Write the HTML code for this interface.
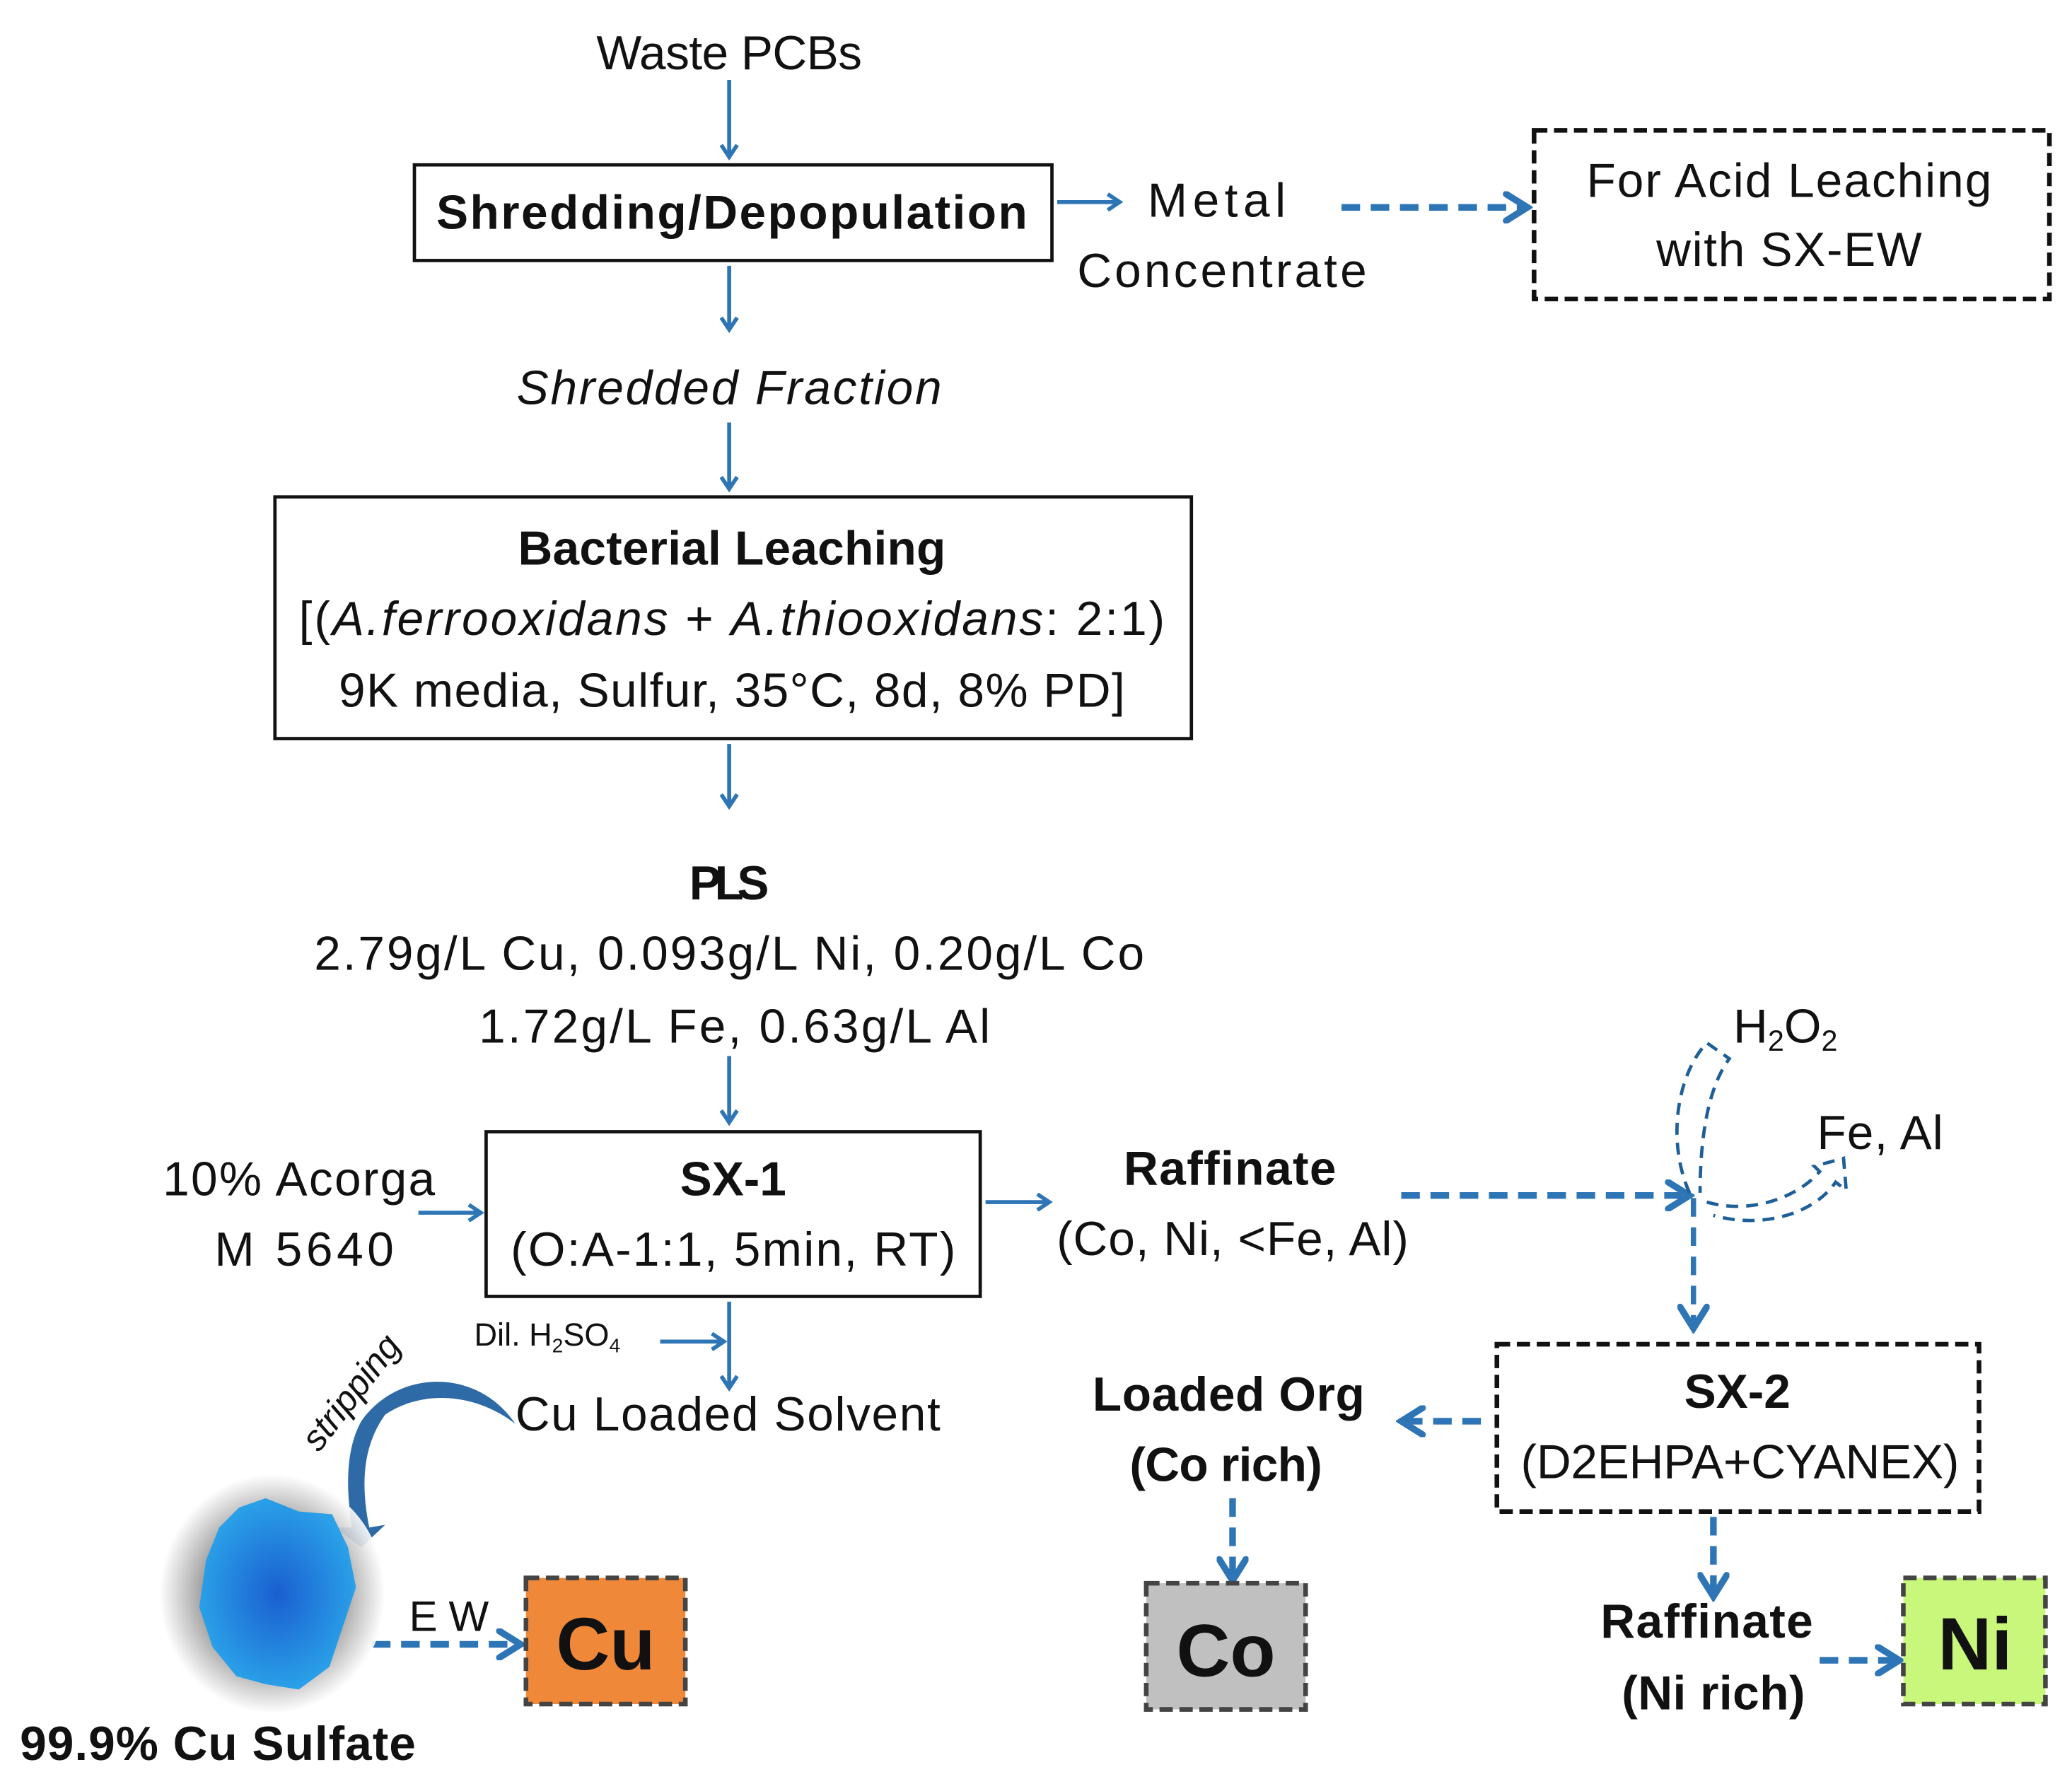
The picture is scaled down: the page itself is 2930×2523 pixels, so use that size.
<!DOCTYPE html>
<html><head><meta charset="utf-8"><style>html,body{margin:0;padding:0;background:#fff}svg{display:block}</style></head>
<body>
<svg width="2930" height="2523" viewBox="0 0 1560 1343" xmlns="http://www.w3.org/2000/svg" font-family="'Liberation Sans', sans-serif" fill="#111">
<defs>
<marker id="a" markerWidth="14" markerHeight="14" refX="11" refY="7" orient="auto" markerUnits="userSpaceOnUse"><path d="M2,1 L11,7 L2,13" fill="none" stroke="#2e75b6" stroke-width="3"/></marker>
<marker id="b" markerWidth="24" markerHeight="24" refX="20" refY="12" orient="auto" markerUnits="userSpaceOnUse"><path d="M4,2 L20,12 L4,22" fill="none" stroke="#2e75b6" stroke-width="5" stroke-linecap="round"/></marker>
<radialGradient id="sh"><stop offset="0.5" stop-color="#777"/><stop offset="1" stop-color="#fff"/></radialGradient>
<radialGradient id="cr"><stop offset="0" stop-color="#1a5fd0"/><stop offset="1" stop-color="#2aa0e8"/></radialGradient>
</defs>
<g stroke="#2e75b6" stroke-width="3" fill="none" marker-end="url(#a)">
<line x1="549" y1="60" x2="549" y2="118"/>
<line x1="796" y1="152" x2="843" y2="152"/>
<line x1="549" y1="200" x2="549" y2="248"/>
<line x1="549" y1="318" x2="549" y2="368"/>
<line x1="549" y1="560" x2="549" y2="607"/>
<line x1="549" y1="795" x2="549" y2="845"/>
<line x1="315" y1="913" x2="362" y2="913"/>
<line x1="742" y1="905" x2="790" y2="905"/>
<line x1="549" y1="980" x2="549" y2="1045"/>
<line x1="497" y1="1010" x2="545" y2="1010"/>
</g>
<g stroke="#2e75b6" stroke-width="5" fill="none" stroke-dasharray="14,8" marker-end="url(#b)">
<line x1="1010" y1="156" x2="1150" y2="156"/>
<line x1="1055" y1="900" x2="1272" y2="900"/>
<line x1="1275" y1="902" x2="1275" y2="1000" stroke-width="4"/>
<line x1="1115" y1="1070" x2="1055" y2="1070"/>
<line x1="928" y1="1128" x2="928" y2="1190"/>
<line x1="1290" y1="1142" x2="1290" y2="1202"/>
<line x1="1370" y1="1250" x2="1430" y2="1250"/>
<line x1="280" y1="1238" x2="392" y2="1238"/>
</g>
<g stroke="#1f5f99" stroke-width="2.5" fill="none" stroke-dasharray="9,6">
<path d="M1272,898 C1255,860 1262,810 1285,785 L1302,797 C1285,820 1280,860 1280,898"/>
<path d="M1285,905 C1320,915 1355,900 1370,882 L1366,878 L1388,872 L1390,896 L1382,890 C1365,915 1325,925 1290,915"/>
</g>
<g fill="none" stroke="#111" stroke-width="2.5">
<rect x="312" y="124" width="480" height="72"/>
<rect x="207" y="374" width="690" height="182"/>
<rect x="366" y="852" width="372" height="124"/>
</g>
<g stroke="#111" stroke-width="3.5" stroke-dasharray="10,5">
<rect x="1155" y="98" width="388" height="127" fill="none"/>
<rect x="1127" y="1012" width="363" height="126" fill="none"/>
<rect x="863" y="1192" width="120" height="95" fill="#c0c0c0" stroke="#444"/>
<rect x="396" y="1188" width="120" height="95" fill="#f0883a" stroke="#444"/>
<rect x="1433" y="1188" width="107" height="95" fill="#c8f77c" stroke="#444"/>
</g>
<path d="M388,1072 C360,1030 300,1030 272,1070 C258,1095 262,1130 265,1150 L252,1150 L272,1165 L290,1148 L278,1150 C272,1120 272,1090 290,1065 C320,1045 360,1050 388,1072 Z" fill="#2e6aa6"/>
<text x="0" y="0" font-size="27" font-style="italic" transform="translate(240,1094) rotate(-52)">stripping</text>
<ellipse cx="205" cy="1200" rx="85" ry="90" fill="url(#sh)" opacity="0.9"/>
<path d="M180,1135 L200,1128 L225,1138 L250,1140 L262,1165 L268,1195 L258,1225 L248,1255 L225,1272 L200,1268 L178,1262 L160,1240 L150,1210 L155,1175 L165,1150 Z" fill="url(#cr)"/>
<g text-anchor="middle" font-size="36">
<text x="549" y="52" textLength="200">Waste PCBs</text>
<text x="551" y="172" font-weight="bold" textLength="445">Shredding/Depopulation</text>
<text x="916" y="163" textLength="104">Metal</text>
<text x="920" y="216" textLength="218">Concentrate</text>
<text x="1347" y="148" textLength="305">For Acid Leaching</text>
<text x="1347" y="200" textLength="200">with SX-EW</text>
<text x="549" y="304" font-style="italic" textLength="320">Shredded Fraction</text>
<text x="551" y="425" font-weight="bold" textLength="322">Bacterial Leaching</text>
<text x="551" y="478" textLength="652">[(<tspan font-style="italic">A.ferrooxidans</tspan> + <tspan font-style="italic">A.thiooxidans</tspan>: 2:1)</text>
<text x="551" y="532" textLength="592">9K media, Sulfur, 35°C, 8d, 8% PD]</text>
<text x="549" y="677" font-weight="bold" textLength="60">PLS</text>
<text x="549" y="730" textLength="625">2.79g/L Cu, 0.093g/L Ni, 0.20g/L Co</text>
<text x="553" y="785" textLength="385">1.72g/L Fe, 0.63g/L Al</text>
<text x="552" y="900" font-weight="bold" textLength="80">SX-1</text>
<text x="552" y="953" textLength="335">(O:A-1:1, 5min, RT)</text>
<text x="225" y="900" textLength="205">10% Acorga</text>
<text x="229" y="953" textLength="135">M 5640</text>
<text x="926" y="892" font-weight="bold" textLength="160">Raffinate</text>
<text x="928" y="945" textLength="265">(Co, Ni, &lt;Fe, Al)</text>
<text x="1308" y="1060" font-weight="bold" textLength="80">SX-2</text>
<text x="1310" y="1113" textLength="330">(D2EHPA+CYANEX)</text>
<text x="925" y="1062" font-weight="bold" textLength="205">Loaded Org</text>
<text x="923" y="1115" font-weight="bold" textLength="145">(Co rich)</text>
<text x="1285" y="1233" font-weight="bold" textLength="160">Raffinate</text>
<text x="1290" y="1287" font-weight="bold" textLength="138">(Ni rich)</text>
<text x="338" y="1228" textLength="60" font-size="32">EW</text>
<text x="456" y="1257" font-weight="bold" font-size="56">Cu</text>
<text x="923" y="1262" font-weight="bold" font-size="56">Co</text>
<text x="1487" y="1257" font-weight="bold" font-size="56">Ni</text>
</g>
<g font-size="36">
<text x="1305" y="785">H<tspan font-size="22" dy="6">2</tspan><tspan dy="-6">O</tspan><tspan font-size="22" dy="6">2</tspan></text>
<text x="1368" y="865" textLength="95">Fe, Al</text>
<text x="388" y="1077" textLength="320">Cu Loaded Solvent</text>
<text x="15" y="1325" font-weight="bold" textLength="298">99.9% Cu Sulfate</text>
<text x="357" y="1013" font-size="24">Dil. H<tspan font-size="15" dy="5">2</tspan><tspan dy="-5">SO</tspan><tspan font-size="15" dy="5">4</tspan></text>
</g>
</svg>
</body></html>
